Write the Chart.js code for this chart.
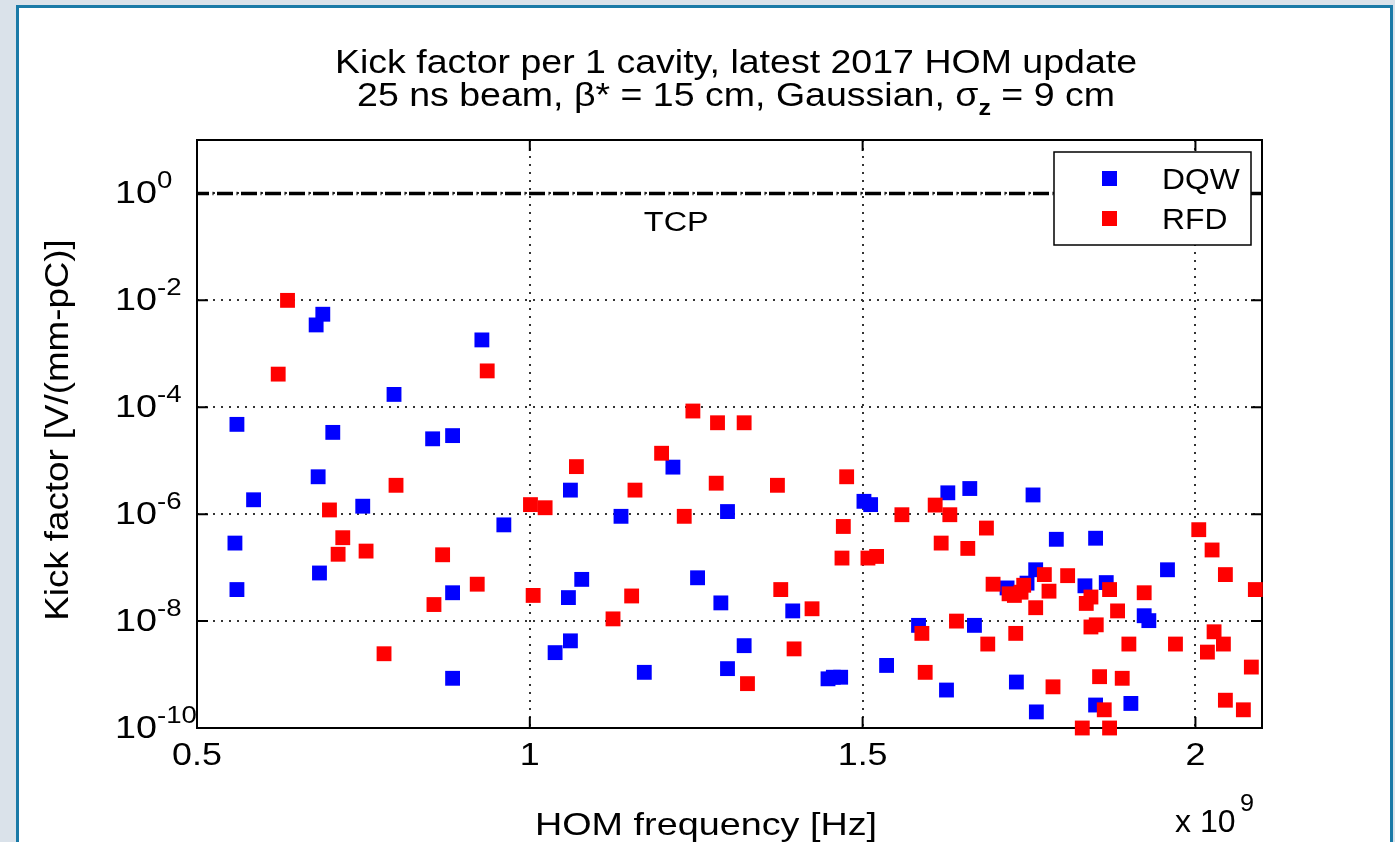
<!DOCTYPE html>
<html>
<head>
<meta charset="utf-8">
<script src="https://cdn.jsdelivr.net/npm/chart.js@4.4.1/dist/chart.umd.min.js"></script>
<style>
html, body { margin: 0; padding: 0; background: #dae2ea; overflow: hidden; }
#panel { position: absolute; left: 16px; top: 5px; width: 1371px; height: 900px; border: 3px solid #1a7aa7; background: #fff; }
#wrap { position: absolute; left: 0; top: 0; width: 1395px; height: 842px; }
</style>
</head>
<body>
<div id="panel"></div>
<div id="wrap"><canvas id="kickChart" width="1395" height="842"></canvas></div>
<script>
// HOM frequency in units of 1e9 Hz, kick factor in V/(mm-pC)
const dqwFreq = [0.689, 0.679, 0.928, 0.796, 0.560, 0.704, 0.854, 0.884, 0.682, 0.585,
  0.749, 0.961, 0.557, 0.684, 0.560, 0.884, 0.884, 1.215, 1.061, 1.502,
  1.512, 1.137, 1.297, 1.078, 1.058, 1.252, 1.287, 1.395, 1.038, 1.061,
  1.172, 1.322, 1.297, 1.448, 1.456, 1.467, 1.536, 1.628, 1.661, 1.756,
  1.791, 1.850, 1.958, 1.760, 1.747, 1.717, 1.834, 1.866, 1.923, 1.930,
  1.584, 1.668, 1.626, 1.731, 1.761, 1.850, 1.903];
const dqwKick = [5.50e-3, 3.47e-3, 1.82e-3, 1.74e-4, 4.79e-5, 3.39e-5, 2.57e-5, 2.95e-5, 5.01e-6, 1.86e-6,
  1.41e-6, 6.31e-7, 2.88e-7, 7.94e-8, 3.89e-8, 3.39e-8, 8.51e-10, 7.59e-6, 2.82e-6, 1.74e-6,
  1.51e-6, 9.12e-7, 1.12e-6, 6.03e-8, 2.75e-8, 6.46e-8, 2.19e-8, 1.55e-8, 2.57e-9, 4.27e-9,
  1.10e-9, 3.47e-9, 1.29e-9, 8.32e-10, 8.91e-10, 8.91e-10, 1.48e-9, 2.51e-6, 3.02e-6, 2.29e-6,
  3.39e-7, 3.55e-7, 9.12e-8, 9.12e-8, 5.13e-8, 4.17e-8, 4.57e-8, 5.25e-8, 1.26e-8, 1.02e-8,
  8.32e-9, 8.32e-9, 5.13e-10, 7.24e-10, 2.00e-10, 2.69e-10, 2.88e-10];

const rfdFreq = [0.636, 0.936, 0.622, 0.799, 0.699, 1.001, 1.023, 0.719, 0.712, 0.754,
  0.869, 0.921, 0.856, 1.005, 0.781, 1.245, 1.282, 1.322, 1.198, 1.070,
  1.158, 1.280, 1.372, 1.476, 1.232, 1.471, 1.469, 1.508, 1.521, 1.153,
  1.125, 1.377, 1.424, 1.397, 1.327, 1.559, 1.609, 1.631, 1.686, 1.618,
  1.658, 2.005, 2.025, 2.045, 2.090, 1.696, 1.720, 1.728, 1.738, 1.742,
  1.773, 1.780, 1.808, 1.871, 1.923, 1.843, 1.836, 1.760, 1.883, 1.589,
  1.641, 1.730, 1.688, 1.843, 1.851, 1.900, 1.970, 2.028, 2.042, 2.018,
  2.084, 1.594, 1.786, 1.856, 1.890, 1.863, 2.045, 2.072, 1.830, 1.871];
const rfdKick = [1.00e-2, 4.79e-4, 4.17e-4, 3.47e-6, 1.20e-6, 1.51e-6, 1.32e-6, 3.63e-7, 1.78e-7, 2.04e-7,
  1.74e-7, 4.90e-8, 2.04e-8, 3.02e-8, 2.45e-9, 8.51e-5, 5.13e-5, 5.13e-5, 1.38e-5, 7.76e-6,
  2.82e-6, 3.80e-6, 3.47e-6, 5.01e-6, 9.12e-7, 5.89e-7, 1.51e-7, 1.51e-7, 1.62e-7, 2.95e-8,
  1.10e-8, 3.89e-8, 1.70e-8, 3.02e-9, 6.76e-10, 9.77e-7, 1.48e-6, 9.77e-7, 5.50e-7, 2.88e-7,
  2.29e-7, 5.13e-7, 2.14e-7, 7.41e-8, 3.89e-8, 4.90e-8, 3.24e-8, 3.02e-8, 3.47e-8, 4.68e-8,
  7.41e-8, 3.63e-8, 7.08e-8, 3.89e-8, 3.39e-8, 2.82e-8, 2.14e-8, 1.78e-8, 1.55e-8, 5.89e-9,
  1.00e-8, 5.89e-9, 3.72e-9, 7.76e-9, 8.51e-9, 3.72e-9, 3.72e-9, 6.31e-9, 3.72e-9, 2.63e-9,
  1.38e-9, 1.10e-9, 5.89e-10, 9.12e-10, 8.51e-10, 2.19e-10, 3.31e-10, 2.19e-10, 1.00e-10, 1.00e-10];

const tcpLevel = 1;
const xTicks = [0.5, 1, 1.5, 2];
const xTickLabels = ['0.5', '1', '1.5', '2'];
const yTicks = [1e0, 1e-2, 1e-4, 1e-6, 1e-8, 1e-10];
const yTickExps = ['0', '-2', '-4', '-6', '-8', '-10'];

const FONT = '"Liberation Sans", Arial, Helvetica, sans-serif';

function txt(ctx, s, x, y, size, sx, align, base, weight) {
  ctx.save();
  ctx.font = (weight || 'normal') + ' ' + size + 'px ' + FONT;
  ctx.translate(x, y);
  ctx.scale(sx, 1);
  ctx.textAlign = align;
  ctx.textBaseline = base;
  ctx.fillStyle = '#000';
  ctx.fillText(s, 0, 0);
  ctx.restore();
}
function txtWidth(ctx, s, size, sx, weight) {
  ctx.save();
  ctx.font = (weight || 'normal') + ' ' + size + 'px ' + FONT;
  const w = ctx.measureText(s).width * sx;
  ctx.restore();
  return w;
}

// box, inner ticks (under the markers)
const boxPlugin = {
  id: 'box',
  beforeDatasetsDraw(chart) {
    const ctx = chart.ctx, a = chart.chartArea;
    const xs = chart.scales.x, ys = chart.scales.y;
    ctx.save();
    ctx.strokeStyle = '#000';
    ctx.lineWidth = 2;
    ctx.strokeRect(a.left, a.top, a.right - a.left, a.bottom - a.top);
    ctx.beginPath();
    xTicks.forEach(v => {
      const px = xs.getPixelForValue(v);
      ctx.moveTo(px, a.bottom); ctx.lineTo(px, a.bottom - 11);
      ctx.moveTo(px, a.top); ctx.lineTo(px, a.top + 11);
    });
    yTicks.forEach(v => {
      const py = ys.getPixelForValue(v);
      ctx.moveTo(a.left, py); ctx.lineTo(a.left + 11, py);
      ctx.moveTo(a.right, py); ctx.lineTo(a.right - 11, py);
    });
    ctx.stroke();
    ctx.restore();
  }
};

// labels, title and legend
const textPlugin = {
  id: 'texts',
  afterDraw(chart) {
    const ctx = chart.ctx, a = chart.chartArea;
    const xs = chart.scales.x, ys = chart.scales.y;

    xTicks.forEach((v, i) => {
      txt(ctx, xTickLabels[i], xs.getPixelForValue(v), a.bottom + 37, 32, 1.12, 'center', 'alphabetic');
    });
    yTicks.forEach((v, i) => {
      const py = ys.getPixelForValue(v);
      txt(ctx, '10', 115, py + 10, 32, 1.18, 'left', 'alphabetic');
      txt(ctx, yTickExps[i], 157, py - 5, 24, 1.15, 'left', 'alphabetic');
    });

    // axis titles
    txt(ctx, 'HOM frequency [Hz]', 706, 835, 32, 1.18, 'center', 'alphabetic');
    txt(ctx, 'x 10', 1175, 832, 32, 1.0, 'left', 'alphabetic');
    txt(ctx, '9', 1240, 811, 24, 1.05, 'left', 'alphabetic');
    ctx.save();
    ctx.translate(68, 430);
    ctx.rotate(-Math.PI / 2);
    ctx.scale(1.08, 1);
    ctx.font = '34px ' + FONT;
    ctx.textAlign = 'center';
    ctx.textBaseline = 'alphabetic';
    ctx.fillStyle = '#000';
    ctx.fillText('Kick factor [V/(mm-pC)]', 0, 0);
    ctx.restore();

    // title
    const cx = 736, tSize = 33, tSx = 1.137;
    txt(ctx, 'Kick factor per 1 cavity, latest 2017 HOM update', cx, 73, tSize, tSx, 'center', 'alphabetic');
    const p1 = '25 ns beam, \u03b2* = 15 cm, Gaussian, \u03c3', p2 = 'z', p3 = ' = 9 cm';
    const w1 = txtWidth(ctx, p1, tSize, tSx), w2 = txtWidth(ctx, p2, 22, tSx, 'bold'), w3 = txtWidth(ctx, p3, tSize, tSx);
    const sx0 = cx - (w1 + w2 + w3) / 2;
    txt(ctx, p1, sx0, 106, tSize, tSx, 'left', 'alphabetic');
    txt(ctx, p2, sx0 + w1, 115, 22, tSx, 'left', 'alphabetic', 'bold');
    txt(ctx, p3, sx0 + w1 + w2, 106, tSize, tSx, 'left', 'alphabetic');

    // TCP label
    txt(ctx, 'TCP', xs.getPixelForValue(1.22), ys.getPixelForValue(tcpLevel) + 38, 27, 1.2, 'center', 'alphabetic');

    // legend
    const lx = 1054, ly = 152, lw = 197, lh = 93;
    ctx.save();
    ctx.fillStyle = '#fff';
    ctx.fillRect(lx, ly, lw, lh);
    ctx.strokeStyle = '#000';
    ctx.lineWidth = 1.5;
    ctx.strokeRect(lx, ly, lw, lh);
    const items = chart.data.datasets.filter(d => d.legendRow !== undefined)
      .sort((p, q) => p.legendRow - q.legendRow);
    items.forEach((d, i) => {
      const yy = ly + 26 + i * 40;
      ctx.fillStyle = d.backgroundColor;
      ctx.fillRect(1102, yy - 7, 15, 15);
      txt(ctx, d.label, 1162, yy + 11, 30, 1.06, 'left', 'alphabetic');
    });
    ctx.restore();
  }
};

const ctx = document.getElementById('kickChart').getContext('2d');
const myChart = new Chart(ctx, {
  type: 'scatter',
  data: {
    datasets: [
      {
        label: 'RFD',
        legendRow: 1,
        data: rfdFreq.map((f, i) => ({ x: f, y: rfdKick[i] })),
        backgroundColor: '#ff0000',
        borderColor: '#ff0000',
        pointStyle: 'rect',
        pointRadius: 10.5,
        borderWidth: 0,
        clip: false
      },
      {
        label: 'DQW',
        legendRow: 0,
        data: dqwFreq.map((f, i) => ({ x: f, y: dqwKick[i] })),
        backgroundColor: '#0000ff',
        borderColor: '#0000ff',
        pointStyle: 'rect',
        pointRadius: 10.5,
        borderWidth: 0,
        clip: false
      },
      {
        type: 'line',
        label: 'TCP',
        data: [{ x: 0.5, y: tcpLevel }, { x: 2.1, y: tcpLevel }],
        borderColor: '#000',
        borderWidth: 3.5,
        borderDash: [16, 3.5, 1, 3.5],
        borderDashOffset: 4,
        pointRadius: 0,
        fill: false
      }
    ]
  },
  options: {
    responsive: false,
    animation: false,
    events: [],
    layout: { padding: { left: 197, right: 133, top: 140, bottom: 114 } },
    plugins: {
      legend: { display: false },
      tooltip: { enabled: false },
      title: { display: false }
    },
    scales: {
      x: {
        type: 'linear',
        min: 0.5,
        max: 2.1,
        afterBuildTicks: s => { s.ticks = xTicks.map(v => ({ value: v })); },
        afterFit: s => { s.height = 0; },
        ticks: { display: false },
        grid: { color: '#333', lineWidth: 2, drawTicks: false },
        border: { display: false, dash: [2, 6] }
      },
      y: {
        type: 'logarithmic',
        min: 1e-10,
        max: 10,
        afterBuildTicks: s => { s.ticks = yTicks.map(v => ({ value: v })); },
        afterFit: s => { s.width = 0; },
        ticks: { display: false },
        grid: { color: '#333', lineWidth: 2, drawTicks: false },
        border: { display: false, dash: [2, 6] }
      }
    }
  },
  plugins: [boxPlugin, textPlugin]
});
</script>
</body>
</html>
